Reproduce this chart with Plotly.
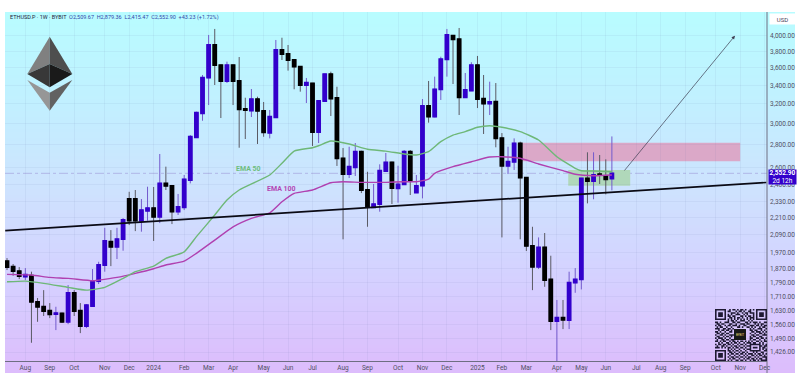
import math
import pandas as pd
import plotly.graph_objects as go

START = "2023-07-17"
HIGH = [1937,1900,1881,1875,1853,1701,1745,1673,1653,1621,1774,1745,1673,1668,1869,1914,2138,2122,2138,2207,2404,2418,2348,2444,2442,
2719,2609,2458,2387,2539,2892,3121,3517,4007,4086,3633,3673,3633,3729,3266,3360,3277,3221,3138,3942,3971,3878,3705,3613,3483,
3426,3231,3528,3555,3385,2772,2784,2818,2748,2566,2466,2629,2728,2651,2617,2754,2754,2539,3252,3449,3498,3733,4086,4007,4099,
3540,3666,3742,3517,3441,3426,2911,2784,2861,2830,2517,2145,2072,2102,1952,1690,1690,1853,1875,2512,2734,2734,2710,2672,2879]
BODY_TOP = [1918,1883,1857,1835,1829,1680,1653,1632,1619,1618,1730,1730,1632,1662,1797,1894,2048,2043,2061,2193,2348,2348,2265,2280,2280,
2471,2471,2450,2288,2504,2876,3110,3486,3878,3878,3633,3633,3633,3449,3148,3252,3252,3128,3070,3815,3815,3766,3693,3613,3430,
3423,3231,3528,3528,3263,2681,2609,2739,2739,2418,2310,2575,2646,2646,2463,2739,2739,2398,3179,3179,3357,3702,4007,3997,3951,
3349,3633,3633,3256,3221,3224,2864,2651,2815,2815,2517,2015,2006,2006,1807,1595,1595,1788,1807,2512,2512,2539,2547,2531,2553]
BODY_BOT = [1881,1857,1827,1823,1680,1653,1630,1613,1614,1574,1574,1630,1552,1552,1657,1797,1894,2010,2010,2061,2188,2188,2186,2260,2216,
2216,2450,2253,2253,2285,2498,2871,3104,3486,3633,3449,3449,3449,3145,3138,3131,3128,2918,2914,3064,3766,3693,3613,3404,3404,
2921,2921,3231,3256,2681,2547,2547,2603,2418,2290,2285,2310,2572,2434,2431,2463,2498,2450,2452,3070,3070,3357,3702,3951,3270,
3270,3342,3252,3203,3203,2861,2617,2617,2651,2517,2015,1883,1883,1803,1578,1578,1584,1583,1788,1807,2490,2490,2539,2504,2510]
LOW = [1863,1829,1809,1803,1470,1574,1604,1593,1532,1569,1562,1604,1517,1542,1657,1780,1853,1887,1931,1984,2157,2115,2111,2188,2048,
2171,2418,2164,2229,2265,2471,2871,3030,3189,3404,3057,3426,3189,2775,2855,3067,2809,2876,2861,3057,3693,3567,3357,3331,3210,
2791,2818,3231,3077,2615,2059,2514,2531,2394,2145,2280,2253,2566,2310,2320,2458,2379,2404,2353,3011,3064,3242,3498,3415,3087,
3270,3342,3158,2902,3087,2779,2072,2547,2581,2059,1982,1745,1869,1764,1532,1385,1537,1537,1730,1749,2315,2346,2466,2384,2415]
DOWN_WEEKS = [0,1,2,4,5,6,7,9,11,12,17,20,21,24,26,27,34,35,37,38,39,41,42,45,46,47,48,50,53,54,55,58,59,63,66,67,69,73,74,77,78,80,81,84,85,86,88,89,91,95,97,98]

EMA100_WEEK = [0,4,7,10,14,15,18,21,24,26,29,31,34,37,40,43,45,47,50,53,55,58,62,65,67,69,70,73,76,79,81,84,87,91,93,96,99]
EMA100 = [1837,1833,1819,1813,1799,1803,1819,1843,1871,1894,1918,1967,2054,2145,2205,2245,2327,2392,2418,2476,2484,2479,2479,2484,2484,2506,2553,2609,2651,2692,2695,2681,2632,2575,2545,2533,2539]
EMA50_WEEK = [0,3,6,10,13,16,19,21,24,26,29,31,34,36,38,43,45,47,50,51,53,56,59,62,65,67,69,71,73,75,77,79,81,84,87,90,93,94,96,99]
EMA50 = [1793,1797,1784,1761,1745,1761,1813,1853,1887,1935,1977,2077,2229,2340,2418,2539,2638,2745,2775,2793,2836,2809,2761,2745,2719,2710,2739,2830,2892,2924,2966,2981,2966,2924,2846,2695,2595,2575,2572,2566]

TREND_X = ["2023-07-15", "2025-12-03"]
TREND_Y = [2118, 2478]
LAST_PRICE = 2552.9

Y_TICKS = [4000,3800,3600,3400,3200,3000,2800,2600,2460,2330,2210,2090,1970,1870,1790,1710,1630,1560,1490,1426]
X_TICKS = ["2023-08-07","2023-09-04","2023-10-02","2023-11-06","2023-12-04","2024-01-01","2024-02-05","2024-03-04","2024-04-01","2024-05-06","2024-06-03","2024-07-01","2024-08-05","2024-09-02","2024-10-07","2024-11-04","2024-12-02","2025-01-06","2025-02-03","2025-03-03","2025-04-07","2025-05-05","2025-06-02","2025-07-07","2025-08-04","2025-09-01","2025-10-06","2025-11-03","2025-12-01"]
X_LABELS = ["Aug","Sep","Oct","Nov","Dec","2024","Feb","Mar","Apr","May","Jun","Jul","Aug","Sep","Oct","Nov","Dec","2025","Feb","Mar","Apr","May","Jun","Jul","Aug","Sep","Oct","Nov","Dec"]

QR = ["111111100101101011010010101111111","100000101100010110100110001000001","101110100011101001011011101011101",
"101110101010011100101000101011101","101110101101100011010110101011101","100000100110101101001011101000001",
"111111101010101010101010101111111","000000001011010011100101000000000","110100111001101100011010111010011",
"011011000110010011101100010101100","101100101101110100110011101101011","010110010010001101001101010010110",
"111001101101000000000010100111001","001011011010000000000011011001010","110100100110000000000001101110101",
"011011011000000000000010010011010","100110100111000000000001101100111","011001011010000000000010110011000",
"101110100100000000000011001101101","010011011011000000000010110010010","110101100101101011010101001101011",
"001010011010110100101110110010100","101101101101001011010011111110101","010011010010110100101110000011011",
"111010101101011011010010111010110","000000001010100100101110000010101","111111101101011010010011111110011",
"100000100110100101101000101001100","101110101011011011010111010110101","101110100100100100101001101011010",
"101110101011011011010110010100111","100000100101100100101101101011001","111111101010011011010010110101111"]

DATES = pd.date_range(START, periods=len(HIGH), freq="7D")
down = set(DOWN_WEEKS)
OPEN = [t if i in down else b for i, (t, b) in enumerate(zip(BODY_TOP, BODY_BOT))]
CLOSE = [b if i in down else t for i, (t, b) in enumerate(zip(BODY_TOP, BODY_BOT))]
BODY_HI = BODY_TOP
BODY_LO = BODY_BOT

L, R, T, B = 5, 767, 12, 361
def px(x): return (x - L) / (R - L)
def py(y): return (B - y) / (B - T)
def poly(points, color):
    d = "M " + " L ".join(f"{px(x):.5f},{py(y):.5f}" for x, y in points) + " Z"
    return dict(type="path", xref="paper", yref="paper", path=d, fillcolor=color, line=dict(width=0), layer="above")

shapes = []
# background gradient
STOPS = [(12,(184,252,255)),(100,(193,240,255)),(190,(206,226,254)),(280,(213,208,255)),(373,(221,188,252))]
def grad(y):
    for (a,ca),(b,cb) in zip(STOPS, STOPS[1:]):
        if y <= b:
            t=(y-a)/(b-a)
            return "rgb(%d,%d,%d)"%tuple(round(u+(v-u)*t) for u,v in zip(ca,cb))
    return "rgb(221,188,252)"
for y in range(12, 373, 3):
    shapes.append(dict(type="rect", xref="paper", yref="paper", x0=px(5), x1=px(795), y0=py(y), y1=py(min(y+4,373)),
                       fillcolor=grad(y), line=dict(width=0), layer="below"))
# zones
shapes.append(dict(type="rect", xref="x", yref="y", x0="2025-02-24", x1="2025-11-03", y0=2655, y1=2821,
                   fillcolor="rgb(219,168,200)", line=dict(width=0), layer="below"))
shapes.append(dict(type="rect", xref="x", yref="y", x0="2025-04-20", x1="2025-06-30", y0=2452, y1=2581,
                   fillcolor="rgb(176,216,186)", line=dict(width=0), layer="below"))
# last price line
shapes.append(dict(type="line", xref="paper", yref="y", x0=0, x1=1, y0=LAST_PRICE, y1=LAST_PRICE,
                   line=dict(color="rgba(140,120,200,0.7)", width=0.6, dash="dashdot"), layer="below"))
# axis extension
shapes.append(dict(type="line", xref="paper", yref="paper", x0=1, x1=1, y0=py(373), y1=py(12),
                   line=dict(color="rgb(110,110,130)", width=1), layer="above"))
# logo
shapes += [
    poly([(49.7,36.7),(27.3,74),(49.7,64)], "rgb(128,128,128)"),
    poly([(49.7,36.7),(72.3,74),(49.7,64)], "rgb(78,78,78)"),
    poly([(27.3,74),(49.7,64),(49.7,87.3)], "rgb(56,56,56)"),
    poly([(72.3,74),(49.7,64),(49.7,87.3)], "rgb(26,26,26)"),
    poly([(27.3,80),(49.7,92.7),(49.7,110.7)], "rgb(150,150,150)"),
    poly([(72.3,80),(49.7,92.7),(49.7,110.7)], "rgb(98,98,98)"),
]
# QR
q0x, q0y, qs = 715, 309, 52/33
d = ""
for r, row in enumerate(QR):
    for c, ch in enumerate(row):
        if ch == "1":
            x0, y0 = q0x + c*qs, q0y + r*qs
            d += f"M{px(x0):.5f},{py(y0):.5f}L{px(x0+qs):.5f},{py(y0):.5f}L{px(x0+qs):.5f},{py(y0+qs):.5f}L{px(x0):.5f},{py(y0+qs):.5f}Z"
shapes.append(dict(type="path", xref="paper", yref="paper", path=d, fillcolor="rgb(30,25,50)", line=dict(width=0), layer="above"))
shapes.append(dict(type="rect", xref="paper", yref="paper", x0=px(734), x1=px(746), y0=py(329), y1=py(340),
                   fillcolor="rgb(25,25,25)", line=dict(width=0), layer="above"))

fig = go.Figure()
fig.add_trace(go.Candlestick(x=DATES, open=OPEN, high=HIGH, low=LOW, close=CLOSE, whiskerwidth=0,
    increasing=dict(line=dict(color="rgb(115,90,205)", width=1), fillcolor="rgb(115,90,205)"),
    decreasing=dict(line=dict(color="rgb(90,90,100)", width=1), fillcolor="rgb(90,90,100)"), hoverinfo="skip"))
fig.add_trace(go.Candlestick(x=DATES, open=OPEN, high=BODY_HI, low=BODY_LO, close=CLOSE, whiskerwidth=0,
    increasing=dict(line=dict(color="rgb(51,0,204)", width=1.8), fillcolor="rgb(51,0,204)"),
    decreasing=dict(line=dict(color="rgb(0,0,0)", width=1.8), fillcolor="rgb(0,0,0)"), hoverinfo="skip"))
fig.add_trace(go.Scatter(x=DATES[EMA100_WEEK], y=EMA100, mode="lines", line=dict(color="rgb(176,64,176)", width=1.4, shape="spline", smoothing=0.5), hoverinfo="skip"))
fig.add_trace(go.Scatter(x=DATES[EMA50_WEEK], y=EMA50, mode="lines", line=dict(color="rgb(110,184,120)", width=1.4, shape="spline", smoothing=0.5), hoverinfo="skip"))
fig.add_trace(go.Scatter(x=TREND_X, y=TREND_Y, mode="lines", line=dict(color="rgb(10,10,20)", width=1.7), hoverinfo="skip"))

FONT = "Roboto"
def ann(text, x, y, size, color, anchor="left", **kw):
    return dict(text=text, x=px(x), y=py(y), xref="paper", yref="paper", xanchor=anchor, yanchor="middle",
                showarrow=False, font=dict(family=FONT, size=size, color=color), **kw)
BL = "rgb(50,70,170)"
header = ('ETHUSD.P · 1W · BYBIT  <span style="color:%s">O2,509.67  H2,879.36  L2,415.47  C2,552.90  +43.23 (+1.72%%)</span>' % BL)
annotations = [
    ann(header, 8, 18, 5.5, "rgb(30,35,60)"),
    ann("<b>EMA 50</b>", 234, 169, 7, "rgb(110,190,125)", "left"),
    ann("<b>EMA 100</b>", 265, 189, 7, "rgb(180,70,180)", "left"),
    ann("BYBIT", 740, 334.5, 3, "rgb(240,220,120)", "center"),
    ann("USD", 769, 19, 6, "rgb(70,70,90)", "left", bgcolor="white", width=25, height=10, borderpad=0, align="center"),
    ann("<b>2,552.90</b><br>2d 12h", 767.5, 177, 6.5, "white", "left", bgcolor="rgb(51,0,204)", width=27, height=14, borderpad=0, align="center"),
    dict(x="2025-10-28", y=math.log10(3997), ax="2025-06-22", ay=math.log10(2564), xref="x", yref="y", axref="x", ayref="y",
         showarrow=True, arrowhead=2, arrowsize=1, arrowwidth=0.7, arrowcolor="rgb(60,60,80)", text=""),
]

fig.update_layout(
    width=800, height=389, autosize=False, showlegend=False,
    margin=dict(l=L, r=800-R, t=T, b=389-B, autoexpand=False),
    paper_bgcolor="white", plot_bgcolor="rgba(0,0,0,0)",
    xaxis=dict(type="date", range=["2023-07-14 17:00", "2025-12-03 17:00"], rangeslider=dict(visible=False),
               tickmode="array", tickvals=X_TICKS, ticktext=X_LABELS, tickangle=0, ticks="", showline=True, linecolor="rgb(110,110,130)", linewidth=1,
               gridcolor="rgba(100,110,170,0.08)", gridwidth=1, zeroline=False,
               tickfont=dict(family=FONT, size=6.5, color="rgb(80,80,100)")),
    yaxis=dict(type="log", side="right", range=[math.log10(1385.3), math.log10(4318)], tickmode="array", tickvals=Y_TICKS,
               ticktext=[f"{v:,.2f}" for v in Y_TICKS], ticks="", showline=False,
               gridcolor="rgba(100,110,170,0.08)", gridwidth=1, zeroline=False, ticklabelstandoff=2,
               tickfont=dict(family=FONT, size=6.5, color="rgb(80,80,100)")),
    shapes=shapes, annotations=annotations,
)
fig.write_html("out.html", config=dict(displayModeBar=False),
               post_script="document.body.style.margin='0';document.body.style.overflow='hidden';")
